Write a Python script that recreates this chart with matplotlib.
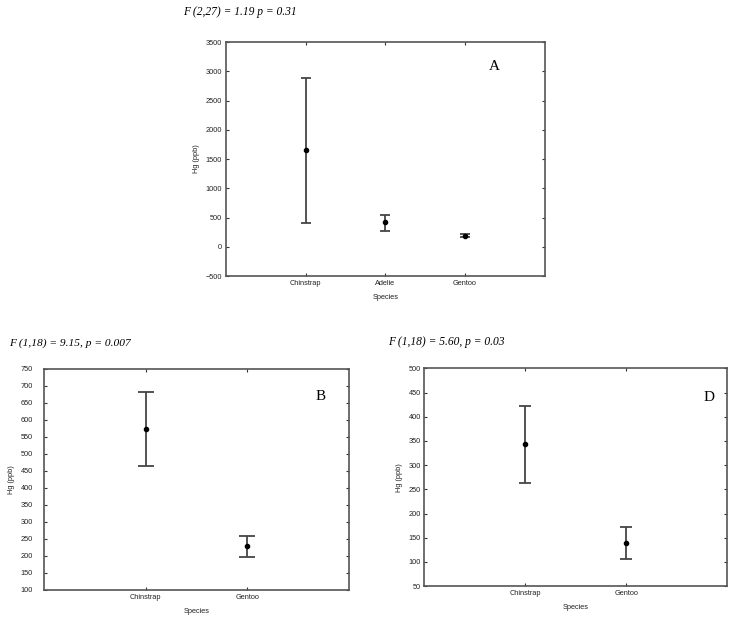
import matplotlib.pyplot as plt
import numpy as np

# panel A
a_species = ["Chinstrap", "Adelie", "Gentoo"]
a_mean = [1660, 420, 190]
a_low = [410, 270, 170]
a_high = [2880, 540, 215]

# panel B
b_species = ["Chinstrap", "Gentoo"]
b_mean = [573, 230]
b_low = [463, 198]
b_high = [681, 259]

# panel D
d_species = ["Chinstrap", "Gentoo"]
d_mean = [344, 140]
d_low = [263, 107]
d_high = [422, 172]

SPINE = "#555555"
BAR = "#454545"


def draw_panel(ax, species, mean, low, high, ylim, ystep, letter, letter_xy,
               capsize, ypad):
    x = np.arange(len(species))
    mean = np.array(mean)
    yerr = [mean - np.array(low), np.array(high) - mean]
    ax.errorbar(x, mean, yerr=yerr, fmt="o", color="black", ms=3,
                ecolor=BAR, elinewidth=1.3, capsize=capsize, capthick=1.3)
    ax.set_xlim(-1, len(species))
    ax.set_ylim(*ylim)
    ax.set_yticks(np.arange(ylim[0], ylim[1] + 1, ystep))
    ax.set_xticks(x)
    ax.set_xticklabels(species)
    ax.tick_params(direction="in", length=2, width=0.8, color="#333333",
                   top=True, right=True, labelsize=5.3, labelcolor="#222222")
    ax.tick_params(axis="y", pad=ypad)
    ax.tick_params(axis="x", pad=3)
    for s in ax.spines.values():
        s.set_color(SPINE)
        s.set_linewidth(1.2)
    ax.set_xlabel("Species", fontsize=5.3, labelpad=5, color="#222222")
    ax.set_ylabel("Hg (ppb)", fontsize=5.3, labelpad=4, color="#222222")
    ax.text(letter_xy[0], letter_xy[1], letter, transform=ax.transAxes,
            family="Liberation Serif", fontsize=11, ha="center", va="center")


fig = plt.figure(figsize=(7.36, 6.19), dpi=100)
plt.rcParams["font.family"] = ["Liberation Sans", "DejaVu Sans"]

ax_a = fig.add_axes([0.307, 0.554, 0.433, 0.378])
draw_panel(ax_a, a_species, a_mean, a_low, a_high, (-500, 3500), 500,
           "A", (0.843, 0.897), 3.3, 3)

ax_b = fig.add_axes([0.060, 0.047, 0.414, 0.357])
draw_panel(ax_b, b_species, b_mean, b_low, b_high, (100, 750), 50,
           "B", (0.908, 0.873), 5.6, 8)

ax_d = fig.add_axes([0.576, 0.053, 0.412, 0.352])
draw_panel(ax_d, d_species, d_mean, d_low, d_high, (50, 500), 50,
           "D", (0.94, 0.867), 4.0, 2)

fig.text(183 / 736, 1 - 12 / 619, "F (2,27) = 1.19 p = 0.31",
         family="Liberation Serif", style="italic", fontsize=8.3, va="center")
fig.text(9 / 736, 1 - 343 / 619, "F (1,18) = 9.15, p = 0.007",
         family="Liberation Serif", style="italic", fontsize=8.2, va="center")
fig.text(388 / 736, 1 - 342 / 619, "F (1,18) = 5.60, p = 0.03",
         family="Liberation Serif", style="italic", fontsize=8.3, va="center")

fig.savefig("out.png", dpi=100)
